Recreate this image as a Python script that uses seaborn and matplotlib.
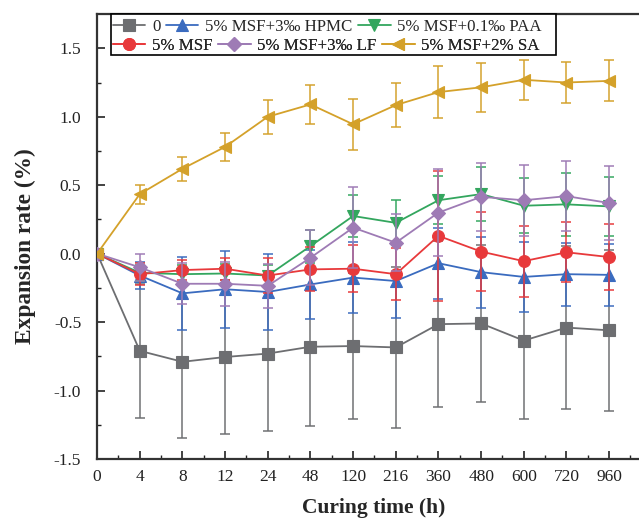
import numpy as np
import pandas as pd
import matplotlib
matplotlib.use("Agg")
import matplotlib.pyplot as plt
from matplotlib.patches import Rectangle
from matplotlib.ticker import FixedLocator, FormatStrFormatter
import seaborn as sns

# Curing times (categorical axis)
times = ["0", "4", "8", "12", "24", "48", "120", "216", "360", "480", "600", "720", "960"]

# Expansion rate (%) and error for each mix
plain = [0, -0.71, -0.79, -0.755, -0.73, -0.68, -0.675, -0.685, -0.515, -0.51, -0.635, -0.54, -0.56]
plain_err = [0, 0.49, 0.555, 0.565, 0.565, 0.58, 0.53, 0.585, 0.605, 0.575, 0.57, 0.595, 0.59]

msf = [0, -0.15, -0.12, -0.11, -0.16, -0.115, -0.11, -0.15, 0.13, 0.015, -0.055, 0.01, -0.025]
msf_err = [0, 0.08, 0.07, 0.08, 0.13, 0.16, 0.17, 0.19, 0.475, 0.29, 0.26, 0.22, 0.24]

hpmc = [0, -0.16, -0.29, -0.26, -0.28, -0.225, -0.175, -0.2, -0.07, -0.135, -0.17, -0.15, -0.155]
hpmc_err = [0, 0.1, 0.265, 0.28, 0.28, 0.255, 0.26, 0.267, 0.26, 0.26, 0.255, 0.23, 0.228]

lf = [0, -0.1, -0.22, -0.22, -0.235, -0.03, 0.19, 0.08, 0.3, 0.415, 0.39, 0.42, 0.37]
lf_err = [0, 0.1, 0.15, 0.16, 0.16, 0.2, 0.295, 0.21, 0.32, 0.25, 0.26, 0.255, 0.267]

paa = [0, -0.14, -0.15, -0.145, -0.16, 0.055, 0.275, 0.225, 0.39, 0.435, 0.35, 0.36, 0.345]
paa_err = [0, 0.06, 0.07, 0.07, 0.08, 0.12, 0.155, 0.165, 0.175, 0.2, 0.2, 0.23, 0.218]

sa = [0, 0.435, 0.62, 0.78, 1.0, 1.09, 0.945, 1.085, 1.18, 1.215, 1.27, 1.25, 1.262]
sa_err = [0, 0.07, 0.087, 0.10, 0.125, 0.145, 0.185, 0.163, 0.19, 0.178, 0.145, 0.15, 0.15]

series = [
    ("0", plain, plain_err, "#6d6e71", "s"),
    ("5% MSF", msf, msf_err, "#e8393b", "o"),
    ("5% MSF+3\u2030 HPMC", hpmc, hpmc_err, "#3a6bbf", "^"),
    ("5% MSF+3\u2030 LF", lf, lf_err, "#9e7bb5", "D"),
    ("5% MSF+0.1\u2030 PAA", paa, paa_err, "#33a65e", "v"),
    ("5% MSF+2% SA", sa, sa_err, "#d4a12a", "<"),
]
draw_order = ["0", "5% MSF+3\u2030 HPMC", "5% MSF+0.1\u2030 PAA", "5% MSF",
              "5% MSF+3\u2030 LF", "5% MSF+2% SA"]
legend_rows = [["0", "5% MSF+3\u2030 HPMC", "5% MSF+0.1\u2030 PAA"],
               ["5% MSF", "5% MSF+3\u2030 LF", "5% MSF+2% SA"]]

sns.set_theme(style="ticks")
plt.rcParams["font.family"] = ["Liberation Serif", "DejaVu Serif"]
plt.rcParams["axes.unicode_minus"] = False

fig = plt.figure(figsize=(6.39, 5.21), dpi=100)
ax = fig.add_axes([0.152, 0.119, 0.848, 0.854])

pos = {t: i for i, t in enumerate(times)}
for z, name in enumerate(draw_order):
    label, vals, errs, color, mk = next(s for s in series if s[0] == name)
    df = pd.DataFrame({"x": [pos[t] for t in times], "y": vals, "err": errs})
    ax.errorbar(df["x"], df["y"], yerr=df["err"], fmt="none", ecolor=color,
                elinewidth=1.2, capsize=3.6, capthick=1.2, alpha=0.9, zorder=2 + z)
    sns.lineplot(data=df, x="x", y="y", ax=ax, color=color, marker=mk,
                 markersize=8.5 if mk != "D" else 7.5, markeredgecolor=color,
                 markeredgewidth=0.8, linewidth=1.3, label=label, zorder=3 + z,
                 errorbar=None)

# Legend: two independently flowed rows inside one frame
h, l = ax.get_legend_handles_labels()
lookup = dict(zip(l, h))
ax.get_legend().remove()
frame = Rectangle((0.0258, 0.907), 0.821, 0.093, transform=ax.transAxes,
                  facecolor="white", edgecolor="black", linewidth=1.2,
                  zorder=20, clip_on=False)
ax.add_patch(frame)
row_y = [0.972, 0.9285]
for row, yy in zip(legend_rows, row_y):
    lg = ax.legend([lookup[k] for k in row], row, ncol=3, loc="center left",
                   bbox_to_anchor=(0.0295, yy), borderaxespad=0, borderpad=0,
                   fontsize=12.2, frameon=False, handlelength=1.9,
                   handletextpad=0.39, columnspacing=0.35)
    lg.set_zorder(21)
    ax.add_artist(lg)

ax.set_xlim(0, 12.7)
ax.set_ylim(-1.5, 1.75)
ax.xaxis.set_major_locator(FixedLocator(range(len(times))))
ax.set_xticklabels(times)
ax.xaxis.set_minor_locator(FixedLocator(np.arange(0.5, 12.6, 1.0)))
ax.yaxis.set_major_locator(FixedLocator([-1.5, -1.0, -0.5, 0.0, 0.5, 1.0, 1.5]))
ax.yaxis.set_minor_locator(FixedLocator([-1.25, -0.75, -0.25, 0.25, 0.75, 1.25]))
ax.yaxis.set_major_formatter(FormatStrFormatter("%.1f"))

ax.tick_params(which="major", direction="in", length=6, width=1.2, labelsize=12.5,
               colors="#222222")
ax.tick_params(which="minor", direction="in", length=3, width=1.0, colors="#222222")
ax.tick_params(axis="x", which="both", top=False, pad=7.5)
ax.tick_params(axis="y", which="both", right=False, pad=11.5)

for side in ("left", "bottom", "top"):
    ax.spines[side].set_linewidth(1.6)
    ax.spines[side].set_color("#333333")
ax.spines["right"].set_visible(False)

ax.set_xlabel("Curing time (h)", fontsize=15.5, fontweight="bold")
ax.set_ylabel("Expansion rate (%)", fontsize=16.8, fontweight="bold")
ax.xaxis.set_label_coords(0.511, -0.087)
ax.yaxis.set_label_coords(-0.112, 0.479)

fig.savefig("out.png", dpi=100)
